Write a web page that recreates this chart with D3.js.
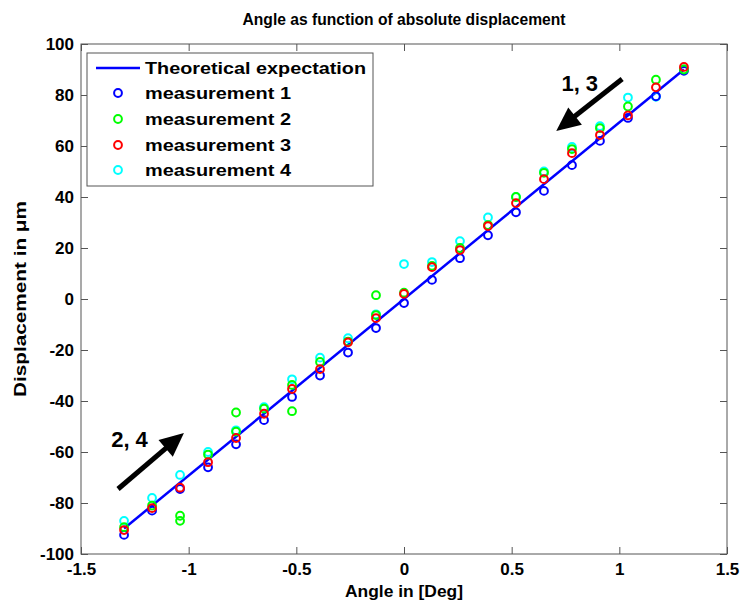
<!DOCTYPE html>
<html>
<head>
<meta charset="utf-8">
<script src="https://cdn.jsdelivr.net/npm/d3@7"></script>
<style>
html,body{margin:0;padding:0;background:#fff;}
svg{display:block;}
text{font-family:"Liberation Sans",Arial,Helvetica,sans-serif;}
</style>
</head>
<body>
<svg id="chart" width="742" height="604"></svg>
<script>
// ---- data ----
const angles = [-1.3,-1.17,-1.04,-0.91,-0.78,-0.65,-0.52,-0.39,-0.26,-0.13,0,0.13,0.26,0.39,0.52,0.65,0.78,0.91,1.04,1.17,1.3];
const measurement1 = [-92.5,-83,-74.5,-66,-57,-47.5,-38.4,-30,-21,-11.4,-1.6,7.5,16,25,34,42.4,52.5,62,71,79.5,89.5];
const measurement2 = [-89.5,-81,-85,-61,-52,-43,-33.7,-24.7,-16.7,-6.3,2.5,13,20,29,40,49.5,58.8,67,75.5,86,90];
const measurement2ExtraAngles = [-1.04,-0.78,-0.52,-0.13];
const measurement2ExtraValues = [-87,-44.5,-44,1.5];
const measurement3 = [-90.6,-82,-74,-64,-54.5,-45,-35.3,-27.5,-17,-7.5,2,12.5,19.2,28.6,37.6,47,57.2,64.3,72,83,91];
const measurement4 = [-87,-78,-69,-60,-51.5,-42.4,-31.5,-23,-15.4,-6,13.7,14.5,22.7,32,40,50,59.6,67.8,79,79.3,90];
const theoryAngles = [-1.3,1.3];
const theoryValues = [-90,90];
const xTicks = [-1.5,-1,-0.5,0,0.5,1,1.5];
const yTicks = [-100,-80,-60,-40,-20,0,20,40,60,80,100];
const legendLabels = ["Theoretical expectation","measurement 1","measurement 2","measurement 3","measurement 4"];
const arrowAnnotations = [
  {label:"1, 3", from:[1.013,86.3], to:[0.707,65.9], text:[0.731,81.6]},
  {label:"2, 4", from:[-1.328,-74.5], to:[-1.022,-52.5], text:[-1.36,-58]}
];

// ---- layout ----
const svg = d3.select("#chart");
const L = 81, R = 727, T = 44, B = 554;
const axisColor = "#555";
const x = d3.scaleLinear().domain([-1.5,1.5]).range([L,R]);
const y = d3.scaleLinear().domain([-100,100]).range([B,T]);

svg.append("rect").attr("width",742).attr("height",604).attr("fill","#fff");

// title
svg.append("text").attr("x",(L+R)/2).attr("y",25).attr("text-anchor","middle")
  .attr("font-size",17).attr("font-weight","bold")
  .attr("textLength",323).attr("lengthAdjust","spacingAndGlyphs")
  .text("Angle as function of absolute displacement");

// axes
function styleAxis(g){
  g.select(".domain").remove();
  g.selectAll(".tick line").attr("stroke",axisColor).attr("stroke-width",1);
  g.selectAll(".tick text").attr("font-size",17).attr("font-weight","bold").attr("fill","#000")
   .attr("font-family","'Liberation Sans',Arial,sans-serif");
}
const fmt = d => String(d);
svg.append("g").attr("transform",`translate(0,${B})`)
  .call(d3.axisBottom(x).tickValues(xTicks).tickSize(-7).tickPadding(9).tickFormat(fmt)).call(styleAxis);
svg.append("g").attr("transform",`translate(0,${T})`)
  .call(d3.axisTop(x).tickValues(xTicks).tickSize(-7).tickFormat("")).call(styleAxis);
svg.append("g").attr("transform",`translate(${L},0)`)
  .call(d3.axisLeft(y).tickValues(yTicks).tickSize(-7).tickPadding(7).tickFormat(fmt)).call(styleAxis);
svg.append("g").attr("transform",`translate(${R},0)`)
  .call(d3.axisRight(y).tickValues(yTicks).tickSize(-7).tickFormat("")).call(styleAxis);
svg.append("rect").attr("x",L).attr("y",T).attr("width",R-L).attr("height",B-T)
  .attr("fill","none").attr("stroke",axisColor).attr("stroke-width",1);

// axis labels
svg.append("text").attr("x",(L+R)/2).attr("y",597).attr("text-anchor","middle")
  .attr("font-size",17).attr("font-weight","bold").attr("textLength",118).attr("lengthAdjust","spacingAndGlyphs")
  .text("Angle in [Deg]");
svg.append("text").attr("transform",`translate(20,${(T+B)/2}) rotate(-90)`).attr("text-anchor","middle")
  .attr("dominant-baseline","central")
  .attr("font-size",17).attr("font-weight","bold").attr("textLength",196).attr("lengthAdjust","spacingAndGlyphs")
  .text("Displacement in μm");

// theoretical line
const lineGen = d3.line().x(d=>x(d[0])).y(d=>y(d[1]));
svg.append("path").datum(theoryAngles.map((a,i)=>[a,theoryValues[i]]))
  .attr("d",lineGen).attr("fill","none").attr("stroke","#0000ff").attr("stroke-width",2.5);

// markers
const r = 3.9, sw = 2;
function drawSeries(as, vs, color){
  svg.append("g").selectAll("circle").data(as.map((a,i)=>[a,vs[i]])).join("circle")
    .attr("cx",d=>x(d[0])).attr("cy",d=>y(d[1])).attr("r",r)
    .attr("fill","none").attr("stroke",color).attr("stroke-width",sw);
}
drawSeries(angles, measurement4, "#00ffff");
drawSeries(angles, measurement1, "#0000ff");
drawSeries(angles, measurement2, "#00ff00");
drawSeries(measurement2ExtraAngles, measurement2ExtraValues, "#00ff00");
drawSeries(angles, measurement3, "#ff0000");

// arrows
arrowAnnotations.forEach(a=>{
  const x1=x(a.from[0]), y1=y(a.from[1]), x2=x(a.to[0]), y2=y(a.to[1]);
  const dx=x2-x1, dy=y2-y1, len=Math.hypot(dx,dy), ux=dx/len, uy=dy/len;
  const hl=24, hw=11;
  const bx=x2-ux*hl, by=y2-uy*hl;
  svg.append("line").attr("x1",x1).attr("y1",y1).attr("x2",bx+ux*2).attr("y2",by+uy*2)
    .attr("stroke","#000").attr("stroke-width",5);
  svg.append("polygon").attr("points",[[x2,y2],[bx-uy*hw,by+ux*hw],[bx+uy*hw,by-ux*hw]].map(p=>p.join(",")).join(" "))
    .attr("fill","#000");
  svg.append("text").attr("x",x(a.text[0])).attr("y",y(a.text[1])).attr("font-size",22).attr("font-weight","bold")
    .text(a.label);
});

// legend
const lg = svg.append("g");
lg.append("rect").attr("x",87).attr("y",53).attr("width",286).attr("height",133)
  .attr("fill","#fff").attr("stroke",axisColor).attr("stroke-width",1);
const legendColors = ["#0000ff","#0000ff","#00ff00","#ff0000","#00ffff"];
const rowY = [68,93,119,145,170];
legendLabels.forEach((lab,i)=>{
  if(i===0){
    lg.append("line").attr("x1",96).attr("x2",140).attr("y1",rowY[i]).attr("y2",rowY[i])
      .attr("stroke",legendColors[i]).attr("stroke-width",2.5);
  } else {
    lg.append("circle").attr("cx",118).attr("cy",rowY[i]).attr("r",r)
      .attr("fill","none").attr("stroke",legendColors[i]).attr("stroke-width",sw);
  }
  lg.append("text").attr("x",145).attr("y",rowY[i]+6).attr("font-size",17).attr("font-weight","bold")
    .attr("textLength", i===0?221:146).attr("lengthAdjust","spacingAndGlyphs").text(lab);
});
</script>
</body>
</html>
